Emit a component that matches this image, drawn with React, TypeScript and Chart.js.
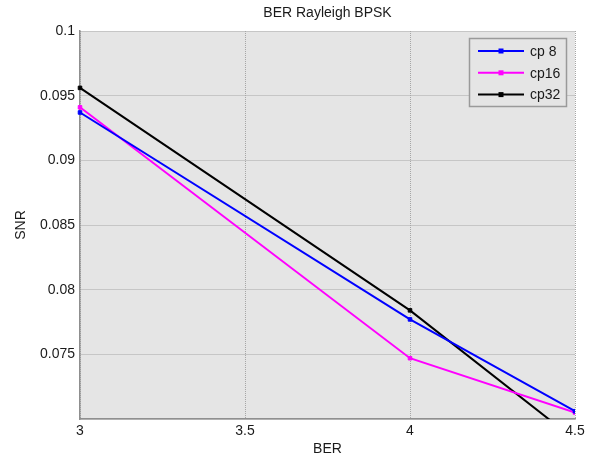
import React, { useEffect, useRef } from "react";
import { Chart, registerables } from "chart.js";

Chart.register(...registerables);

const titleText = "BER Rayleigh BPSK";
const xLabel = "BER";
const yLabel = "SNR";
const xValues = [3, 4, 4.5];
const seriesNames = ["cp 8", "cp16", "cp32"];
const cp8 = [0.0937, 0.0777, 0.0706];
const cp16 = [0.0941, 0.0747, 0.0705];
const cp32 = [0.0956, 0.0784, 0.0684];
const seriesColors = ["#0000ff", "#ff00ff", "#000000"];
const xTicks = [3, 3.5, 4, 4.5];
const yMin = 0.07;
const yMax = 0.1;
const yStep = 0.005;

const FONT = "'Liberation Sans', Arial, Helvetica, sans-serif";

const bgPlugin = {
  id: "plotBg",
  beforeDraw(chart: any) {
    const { ctx, chartArea } = chart;
    ctx.save();
    ctx.fillStyle = "#e5e5e5";
    ctx.fillRect(chartArea.left, chartArea.top, chartArea.right - chartArea.left, chartArea.bottom - chartArea.top);
    ctx.restore();
  },
};

const titlePlugin = {
  id: "matTitle",
  afterDraw(chart: any) {
    const { ctx, chartArea } = chart;
    ctx.save();
    ctx.font = `14px ${FONT}`;
    ctx.fillStyle = "#1a1a1a";
    ctx.textAlign = "center";
    ctx.textBaseline = "middle";
    ctx.fillText(titleText, (chartArea.left + chartArea.right) / 2, 13);
    ctx.restore();
  },
};

const legendPlugin = {
  id: "matLegend",
  afterDatasetsDraw(chart: any) {
    const { ctx, chartArea } = chart;
    const boxW = 97;
    const boxH = 68;
    const left = chartArea.right - 105.5;
    const top = chartArea.top + 7.5;
    ctx.save();
    ctx.fillStyle = "#e5e5e5";
    ctx.fillRect(left, top, boxW, boxH);
    ctx.strokeStyle = "#9a9a9a";
    ctx.lineWidth = 1.5;
    ctx.strokeRect(left, top, boxW, boxH);
    ctx.font = `14px ${FONT}`;
    ctx.textBaseline = "middle";
    ctx.textAlign = "left";
    chart.data.datasets.forEach((ds: any, i: number) => {
      const y = top + 12.5 + i * 21.8;
      ctx.strokeStyle = ds.borderColor;
      ctx.lineWidth = 2;
      ctx.beginPath();
      ctx.moveTo(left + 8.5, y);
      ctx.lineTo(left + 54.5, y);
      ctx.stroke();
      ctx.fillStyle = ds.borderColor;
      ctx.fillRect(left + 31.5 - 2.5, y - 2.5, 5, 5);
      ctx.fillStyle = "#1a1a1a";
      ctx.fillText(ds.label, left + 60.5, y + 1);
    });
    ctx.restore();
  },
};

export default function App() {
  const canvasRef = useRef<HTMLCanvasElement | null>(null);

  useEffect(() => {
    document.body.style.margin = "0";
    const canvas = canvasRef.current;
    if (!canvas) return;
    const seriesValues = [cp8, cp16, cp32];
    const chart = new Chart(canvas, {
      type: "line",
      data: {
        datasets: seriesValues.map((vals, i) => ({
          label: seriesNames[i],
          data: vals.map((v, j) => ({ x: xValues[j], y: v })),
          borderColor: seriesColors[i],
          backgroundColor: seriesColors[i],
          borderWidth: 2,
          pointStyle: "rect",
          pointRadius: 2.5,
          pointBorderWidth: 1,
          pointBorderColor: seriesColors[i],
          pointBackgroundColor: seriesColors[i],
          fill: false,
          tension: 0,
          clip: { left: 4, top: 4, right: 0, bottom: 0 },
        })),
      },
      options: {
        responsive: false,
        animation: false,
        devicePixelRatio: 1,
        layout: { padding: { left: 0, top: 31, right: 17, bottom: 0 } },
        plugins: {
          legend: { display: false },
          title: { display: false },
          tooltip: { enabled: false },
        },
        scales: {
          x: {
            type: "linear",
            min: xTicks[0],
            max: xTicks[xTicks.length - 1],
            afterBuildTicks: (scale: any) => {
              scale.ticks = xTicks.map((v) => ({ value: v }));
            },
            afterFit: (scale: any) => {
              scale.height = 40;
            },
            ticks: {
              padding: 4,
              color: "#1a1a1a",
              font: { family: FONT, size: 14 },
              maxRotation: 0,
              callback: (v: any) => String(v),
            },
            grid: {
              drawTicks: false,
              color: "#a6a6a6",
              lineWidth: 1,
              borderDash: [1, 1],
            } as any,
            border: { display: true, color: "#8f8f8f", width: 1.5, dash: [1, 1] } as any,
            title: {
              display: true,
              text: xLabel,
              color: "#1a1a1a",
              font: { family: FONT, size: 14 },
              padding: { top: 0, bottom: 1 },
            },
          },
          y: {
            type: "linear",
            min: yMin,
            max: yMax,
            afterFit: (scale: any) => {
              scale.width = 80;
            },
            ticks: {
              stepSize: yStep,
              padding: 5,
              color: "#1a1a1a",
              font: { family: FONT, size: 14 },
              callback: (v: any) => {
                const n = Number(Number(v).toFixed(4));
                if (Math.abs(n - yMin) < 1e-9) return "";
                return String(n);
              },
            },
            grid: {
              drawTicks: false,
              color: "#a6a6a6",
              lineWidth: 1,
              borderDash: [1, 1],
            } as any,
            border: { display: true, color: "#8f8f8f", width: 1.5, dash: [1, 1] } as any,
            title: {
              display: true,
              text: yLabel,
              color: "#1a1a1a",
              font: { family: FONT, size: 14 },
              padding: { top: 13, bottom: 0 },
            },
          },
        },
      },
      plugins: [bgPlugin, legendPlugin, titlePlugin],
    } as any);
    return () => chart.destroy();
  }, []);

  return (
    <div style={{ width: 592, height: 459, background: "#fff" }}>
      <canvas ref={canvasRef} width={592} height={459} style={{ display: "block" }} />
    </div>
  );
}
